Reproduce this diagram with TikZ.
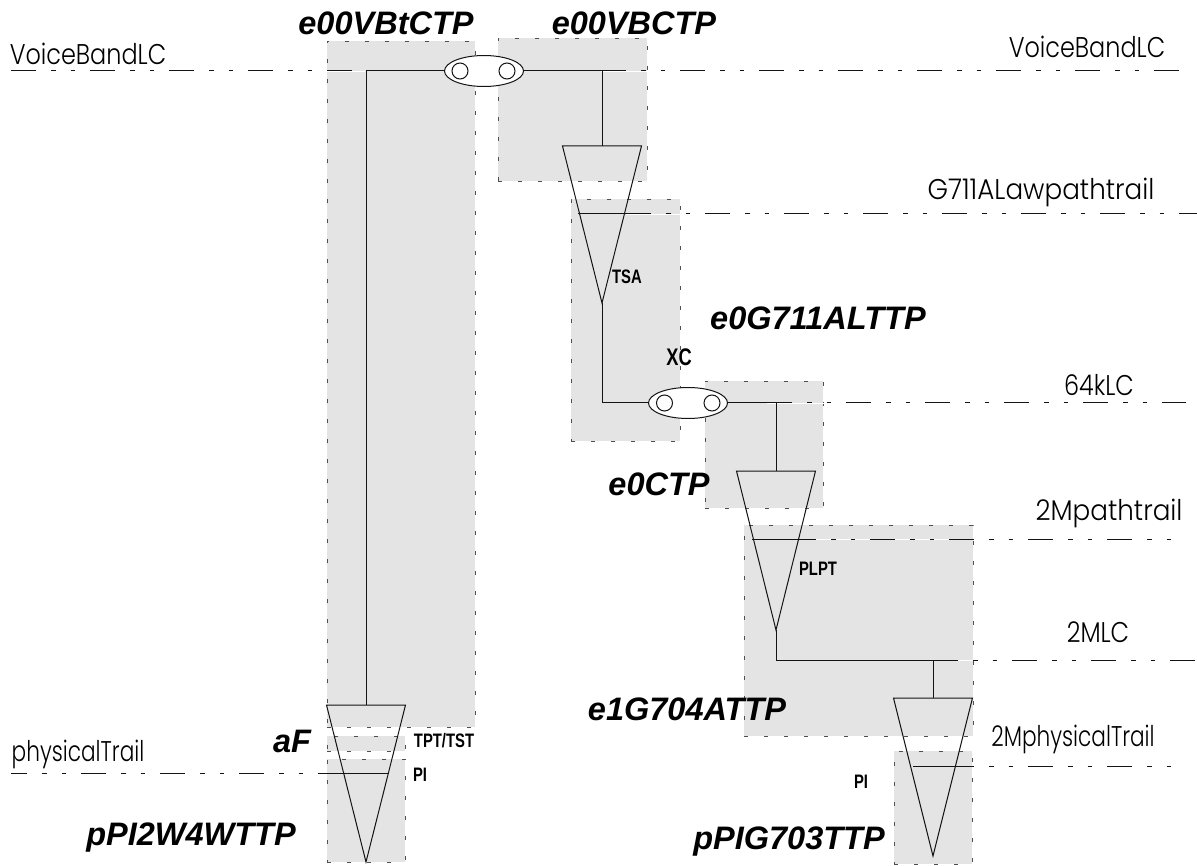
\documentclass[tikz,border=0pt]{standalone}
\usepackage{fontspec}
\setmainfont{Liberation Sans}
\newfontfamily\trailfont[FakeStretch=0.84]{Poppins Light}
\newfontfamily\trailwide[FakeStretch=0.92]{Poppins Light}
\newfontfamily\trailthin[FakeStretch=0.76]{Poppins Light}
\newfontfamily\tagfont[FakeStretch=0.76]{Liberation Sans}
\usetikzlibrary{positioning,shapes.geometric}
\definecolor{panel}{RGB}{228,228,228}
\definecolor{ink}{RGB}{20,20,20}
\tikzset{
  area/.style={draw=ink!75,fill=panel,line width=0.9pt,dash pattern=on 4pt off 16pt,inner sep=0pt},
  trail/.style={ink,line width=1pt,dash pattern=on 25pt off 15pt on 4.5pt off 15pt on 4.5pt off 15pt,
    preaction={draw=white,solid}},
  conn/.style={ink,line width=1pt},
  xconn/.style={ellipse,draw=ink,fill=white,line width=1pt,minimum width=79pt,minimum height=31pt,inner sep=0pt},
  port/.style={circle,draw=ink,line width=1pt,minimum size=16pt,inner sep=0pt},
  ttp/.style={font=\fontsize{32.5}{32.5}\selectfont\bfseries\itshape,inner sep=0pt},
  lay/.style={font=\trailfont\fontsize{28.5}{28.5}\selectfont,inner sep=0pt},
  laywide/.style={font=\trailwide\fontsize{28.5}{28.5}\selectfont,inner sep=0pt},
  laythin/.style={font=\trailthin\fontsize{28.5}{28.5}\selectfont,inner sep=0pt},
  tag/.style={font=\tagfont\fontsize{19.5}{19.5}\selectfont\bfseries,inner sep=0pt},
  % triangle, top edge at the origin
  pics/sink/.style={code={
    \draw[conn] (-39.5,0) -- (39.5,0) -- (0,#1) -- cycle;
    \coordinate (-top) at (0,0);
    \coordinate (-tip) at (0,#1);
  }},
}
\begin{document}
\begin{tikzpicture}[x=1pt,y=-1pt]
  \useasboundingbox (0,0) rectangle (1197,866);
  % grey areas
  \node[area,minimum width=148pt,minimum height=686pt] (vbt) at (401,384) {};
  \node[area,minimum width=149pt,minimum height=143pt] (vbc) at (572.5,109.5) {};
  \node[area,minimum width=109pt,minimum height=242pt] (alt) at (625.5,320) {};
  \node[area,minimum width=118pt,minimum height=127pt] (ctp) at (764,444.5) {};
  \node[area,minimum width=229pt,minimum height=211pt] (ate) at (858.5,630.5) {};
  \node[area,minimum width=78pt,minimum height=15pt] (af) at (366,743.5) {};
  \node[area,minimum width=78pt,minimum height=103pt] (w4) at (366,810.5) {};
  \node[area,minimum width=78pt,minimum height=113pt] (g703) at (933,807.5) {};
  % layer trails
  \draw[trail] (11,71) -- (365,71);
  \draw[trail] (601,71) -- (1184,71);
  \draw[trail] (626,214) -- (1197,214);
  \draw[trail] (767,403) -- (1186,403);
  \draw[trail] (791,539) -- (1172,539);
  \draw[trail] (933,660) -- (1195,660);
  \draw[trail] (949,766) -- (1172,766);
  \draw[trail,dash phase=9pt] (11,773) -- (343,773);
  % triangles
  \pic (t1) at (366,705) {sink=157};
  \pic (t2) at (602,146) {sink=157};
  \pic (t3) at (776,471) {sink=159};
  \pic (t4) at (933,698) {sink=158};
  % connection points
  \node[xconn] (xc1) at (484,71) {};
  \node[port] (xc1a) at (460,71) {};
  \node[port] (xc1b) at (507,71) {};
  \node[xconn] (xc2) at (688,403) {};
  \node[port] (xc2a) at (664.5,403) {};
  \node[port] (xc2b) at (712,403) {};
  \coordinate (vbe) at (626,71);
  \coordinate (alA) at (578,214);
  \coordinate (alB) at (651,214);
  \coordinate (kE) at (792,403);
  \coordinate (mA) at (752,539);
  \coordinate (mB) at (816,539);
  \coordinate (lcE) at (958,660);
  \coordinate (phA) at (913,766);
  \coordinate (phB) at (973,766);
  \coordinate (plA) at (318,773);
  \coordinate (plB) at (389,773);
  % connectors
  \draw[conn] (xc1.west) -- (xc1.west -| t1-top) -- (t1-top);
  \draw[conn] (xc1.east) -- (vbe);
  \draw[conn] (vbe -| t2-top) -- (t2-top);
  \draw[conn] (alA) -- (alB);
  \draw[conn] (t2-tip) |- (xc2.west);
  \draw[conn] (xc2.east) -- (kE);
  \draw[conn] (kE -| t3-top) -- (t3-top);
  \draw[conn] (mA) -- (mB);
  \draw[conn] (t3-tip) |- (lcE);
  \draw[conn] (lcE -| t4-top) -- (t4-top);
  \draw[conn] (phA) -- (phB);
  \draw[conn] (plA) -- (plB);
  % names
  \node[ttp] (n1) at (386,23) {e00VBtCTP};
  \node[ttp] (n2) at (634,23) {e00VBCTP};
  \node[ttp] (n3) at (818,318) {e0G711ALTTP};
  \node[ttp] (n4) at (659,484) {e0CTP};
  \node[ttp] (n5) at (687,709) {e1G704ATTP};
  \node[ttp] (n6) at (292,741) {aF};
  \node[ttp] (n7) at (191,838) {pPI2W4WTTP};
  \node[ttp] (n8) at (789,842) {pPIG703TTP};
  % layers
  \node[lay] (l1) at (88,54) {VoiceBandLC};
  \node[lay] (l2) at (1087,47) {VoiceBandLC};
  \node[laywide] (l3) at (1041,192) {G711ALawpathtrail};
  \node[lay] (l4) at (1099,385) {64kLC};
  \node[laywide] (l5) at (1109,513) {2Mpathtrail};
  \node[lay] (l6) at (1098,632) {2MLC};
  \node[laythin] (l7) at (1073,739) {2MphysicalTrail};
  \node[laythin] (l8) at (78,754) {physicalTrail};
  % functions
  \node[tag] (f1) at (627,277) {TSA};
  \node[tag,font=\tagfont\fontsize{24}{24}\selectfont\bfseries] (f2) at (679,357) {XC};
  \node[tag] (f3) at (818,569) {PLPT};
  \node[tag] (f4) at (444,741) {TPT/TST};
  \node[tag] (f5) at (420,775) {PI};
  \node[tag] (f6) at (861,782) {PI};
\end{tikzpicture}
\end{document}
